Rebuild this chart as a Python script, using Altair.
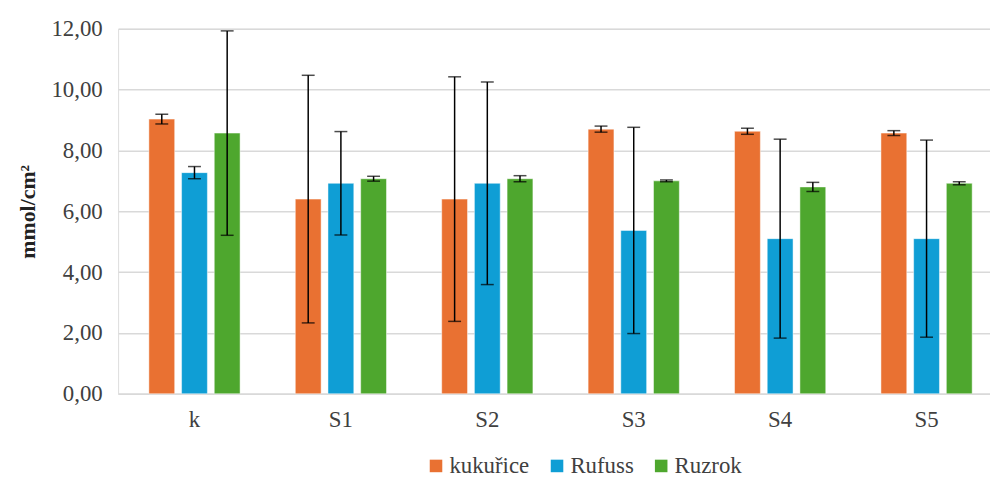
import altair as alt
import pandas as pd

categories = ["k", "S1", "S2", "S3", "S4", "S5"]
series = ["kukuřice", "Rufuss", "Ruzrok"]
colors = ["#E97132", "#0F9ED5", "#4EA72E"]

kukurice = [9.03, 6.40, 6.40, 8.70, 8.63, 8.57]
kukurice_err = [0.16, 4.07, 4.02, 0.10, 0.10, 0.08]
rufuss = [7.27, 6.92, 6.92, 5.37, 5.10, 5.10]
rufuss_err = [0.20, 1.70, 3.33, 3.39, 3.27, 3.24]
ruzrok = [8.57, 7.07, 7.07, 7.00, 6.80, 6.92]
ruzrok_err = [3.36, 0.08, 0.10, 0.03, 0.15, 0.05]

rows = []
for s, vals, errs in [(series[0], kukurice, kukurice_err),
                      (series[1], rufuss, rufuss_err),
                      (series[2], ruzrok, ruzrok_err)]:
    for c, v, e in zip(categories, vals, errs):
        rows.append({"cat": c, "series": s, "value": v, "lo": v - e, "hi": v + e})
df = pd.DataFrame(rows)

FONT = "Liberation Serif"
TXT = "#404040"
FS = 23

x_enc = alt.X("cat:N", sort=categories, title=None,
              scale=alt.Scale(paddingInner=0.377, paddingOuter=0.166, align=0.633),
              axis=alt.Axis(labelAngle=0, labelFont=FONT, labelFontSize=FS, labelColor=TXT,
                            labelPadding=15, ticks=False, domainColor="#d9d9d9",
                            domainWidth=1.5, grid=False))
xo_enc = alt.XOffset("series:N", sort=series,
                     scale=alt.Scale(paddingInner=0.21, paddingOuter=0))
y_scale = alt.Scale(domain=[0, 12], nice=False)

base = alt.Chart(df)

bars = base.mark_bar(stroke="white", strokeWidth=0.8, strokeOpacity=0.6).encode(
    x=x_enc,
    xOffset=xo_enc,
    y=alt.Y("value:Q", title="mmol/cm²", scale=y_scale,
            axis=alt.Axis(values=[0, 2, 4, 6, 8, 10, 12],
                          labelExpr="replace(format(datum.value, '.2f'), '.', ',')",
                          labelFont=FONT, labelFontSize=FS, labelColor=TXT, labelPadding=16,
                          ticks=False, domain=False, gridColor="#d9d9d9", gridWidth=1.5,
                          titleFont=FONT, titleFontSize=22, titleColor="#222222",
                          titleFontWeight="bold", titlePadding=12)),
    color=alt.Color("series:N", sort=series,
                    scale=alt.Scale(domain=series, range=colors),
                    legend=alt.Legend(title=None, orient="none", direction="horizontal",
                                      legendX=309, legendY=429, symbolType="square",
                                      symbolSize=160, symbolStrokeWidth=0,
                                      labelFont=FONT, labelFontSize=FS, labelColor=TXT,
                                      columnPadding=16, labelOffset=2)),
)

err = base.mark_rule(color="black", strokeWidth=1.5).encode(
    x=x_enc, xOffset=xo_enc,
    y=alt.Y("lo:Q", scale=y_scale),
    y2="hi:Q",
)
cap_lo = base.mark_tick(color="black", thickness=1.5, size=13, orient="horizontal").encode(
    x=x_enc, xOffset=xo_enc,
    y=alt.Y("lo:Q", scale=y_scale),
)
cap_hi = base.mark_tick(color="black", thickness=1.5, size=13, orient="horizontal").encode(
    x=x_enc, xOffset=xo_enc,
    y=alt.Y("hi:Q", scale=y_scale),
)

chart = alt.layer(bars, err, cap_lo, cap_hi).properties(
    width=879, height=368,
    autosize=alt.AutoSizeParams(type="none"),
    padding={"left": 111, "top": 19, "right": 0, "bottom": 85},
).configure_view(stroke=None).configure(
    background="white", font=FONT
).configure_legend(labelFont=FONT, labelFontSize=FS, labelColor=TXT)

chart.save("out.html", embed_options={"renderer": "svg", "actions": False})
